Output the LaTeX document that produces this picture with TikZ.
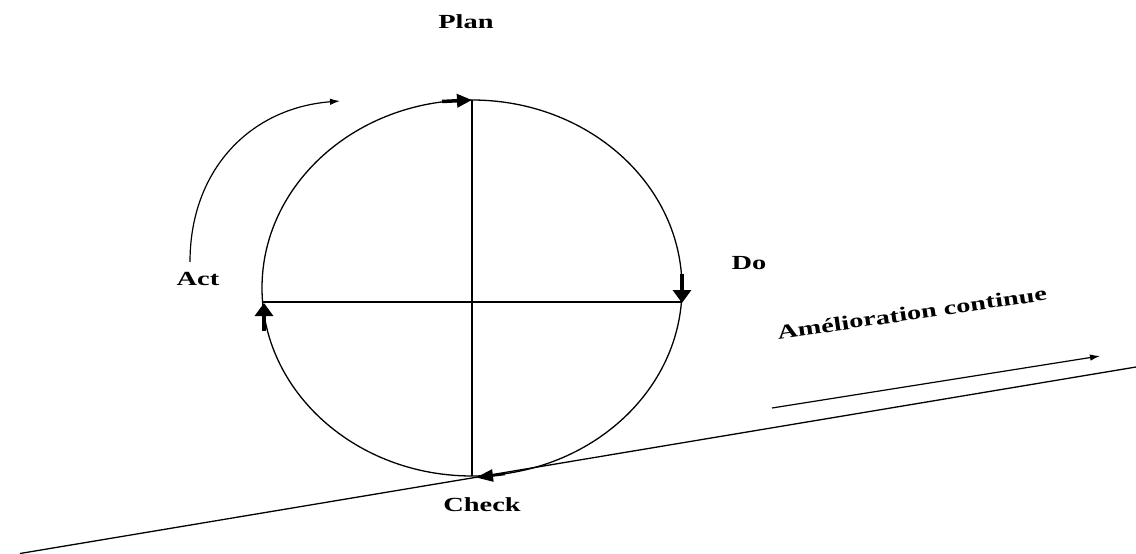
\documentclass[tikz,border=0pt]{standalone}
\usepackage{fontspec}
\setmainfont{Liberation Serif}
\newfontfamily\widefont[FakeStretch=1.42]{Liberation Serif}
\usetikzlibrary{arrows.meta,shapes.geometric}
\tikzset{
  lbl/.style={font=\widefont\bfseries\fontsize{20}{23}\selectfont, inner sep=0pt},
  bigarrow/.style={line width=4.5pt, -{Triangle[length=13pt,width=18pt]}},
  midarrow/.style={line width=3.5pt, -{Triangle[length=15pt,width=13pt]}},
  thinline/.style={line width=1.3pt},
  thinarrow/.style={line width=1.2pt, -{Latex[length=10pt,width=6.5pt]}},
}
\begin{document}
\begin{tikzpicture}[x=1pt,y=-1pt]
\useasboundingbox (0,0) rectangle (1136,554);
% circle and axes
\node[draw, thinline, ellipse, minimum width=420pt, minimum height=376pt, inner sep=0pt] (cyc) at (472,288) {};
\coordinate (top) at (472,100);
\coordinate (bot) at (472,476);
\coordinate (lft) at (262.6,302);
\coordinate (rgt) at (681.4,302);
\draw[thinline] (top) -- (bot);
\draw[thinline] (lft) -- (rgt);
% arrows on the circle
\coordinate (pA) at (442,101.5); \coordinate (pB) at (472,100);
\coordinate (dA) at (682,274);   \coordinate (dB) at (682,303);
\coordinate (aA) at (264,331);   \coordinate (aB) at (264,303);
\coordinate (cA) at (505,474);   \coordinate (cB) at (476,477.5);
\draw[midarrow] (pA) -- (pB);
\draw[bigarrow] (dA) -- (dB);
\draw[bigarrow] (aA) -- (aB);
\draw[line width=2.5pt, -{Triangle[length=17pt,width=12pt]}] (cA) -- (cB);
% curved act arrow
\coordinate (c1) at (190,262);
\coordinate (c2) at (340,101);
\draw[thinarrow] (c1) .. controls (190,170) and (250,108) .. (c2);
% slope line
\coordinate (s1) at (20,553.5);
\coordinate (s2) at (1136,367);
\draw[thinline] (s1) -- (s2);
% improvement arrow
\coordinate (i1) at (772,408);
\coordinate (i2) at (1100,356);
\draw[thinarrow] (i1) -- (i2);
% labels
\node[lbl] (plan) at (466,22) {Plan};
\node[lbl] (do) at (749,263) {Do};
\node[lbl] (act) at (198,279) {Act};
\node[lbl] (check) at (482,505) {Check};
\node[lbl, rotate=8.3] (amel) at (912,313) {Amélioration continue};
\end{tikzpicture}
\end{document}
